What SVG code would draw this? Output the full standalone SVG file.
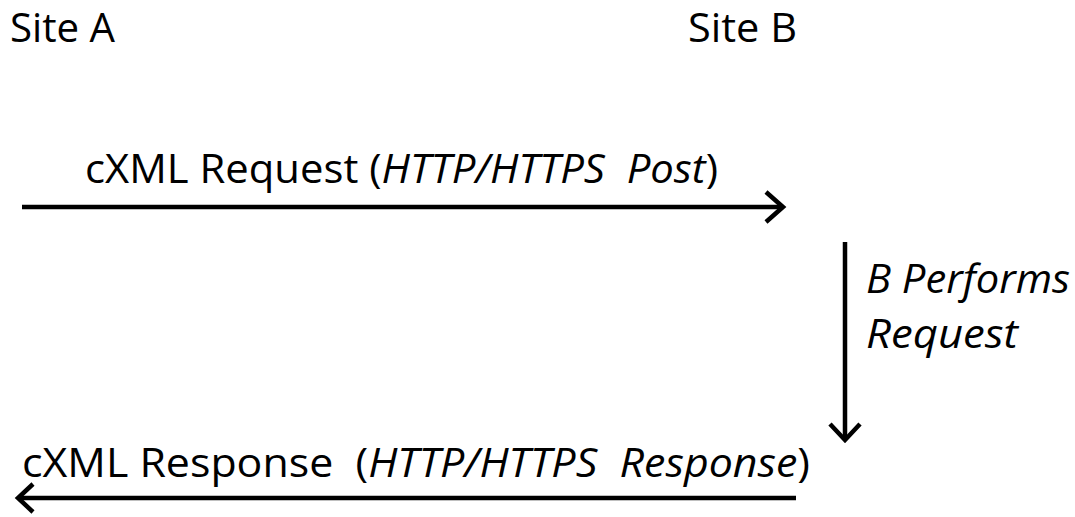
<svg xmlns="http://www.w3.org/2000/svg" width="1075" height="517" viewBox="0 0 1075 517">
<style>
text{font-family:"Open Sans","Noto Sans","Liberation Sans",sans-serif;font-size:40px;fill:#000;white-space:pre}
.i{font-style:italic}
.ln{stroke:#000;stroke-width:4.5;fill:none}
.hd{stroke:#000;stroke-width:4.5;fill:none;stroke-linejoin:miter;stroke-linecap:butt}
</style>
<rect width="1075" height="517" fill="#fff"/>
<g id="siteA"><text x="10" y="42" textLength="105" lengthAdjust="spacingAndGlyphs">Site A</text></g>
<g id="siteB"><text x="688" y="42" textLength="109" lengthAdjust="spacingAndGlyphs">Site B</text></g>
<g id="connectors">
<g id="request">
<line class="ln" x1="22" y1="207" x2="782" y2="207"/>
<polyline class="hd" points="766,192 783,207 766,222"/>
<text x="85" y="183" textLength="633" lengthAdjust="spacingAndGlyphs" xml:space="preserve">cXML Request (<tspan class="i">HTTP/HTTPS  Post</tspan>)</text>
</g>
<g id="perform">
<line class="ln" x1="845" y1="242" x2="845" y2="439"/>
<polyline class="hd" points="830,424 845,440 860,424"/>
<text class="i" x="866" y="293" textLength="204" lengthAdjust="spacingAndGlyphs">B Performs</text>
<text class="i" x="866" y="348" textLength="152" lengthAdjust="spacingAndGlyphs">Request</text>
</g>
<g id="response">
<line class="ln" x1="19" y1="498" x2="796" y2="498"/>
<polyline class="hd" points="33,484 18,498 33,512"/>
<text x="22" y="477" textLength="788" lengthAdjust="spacingAndGlyphs" xml:space="preserve">cXML Response  (<tspan class="i">HTTP/HTTPS  Response</tspan>)</text>
</g>
</g>
</svg>
